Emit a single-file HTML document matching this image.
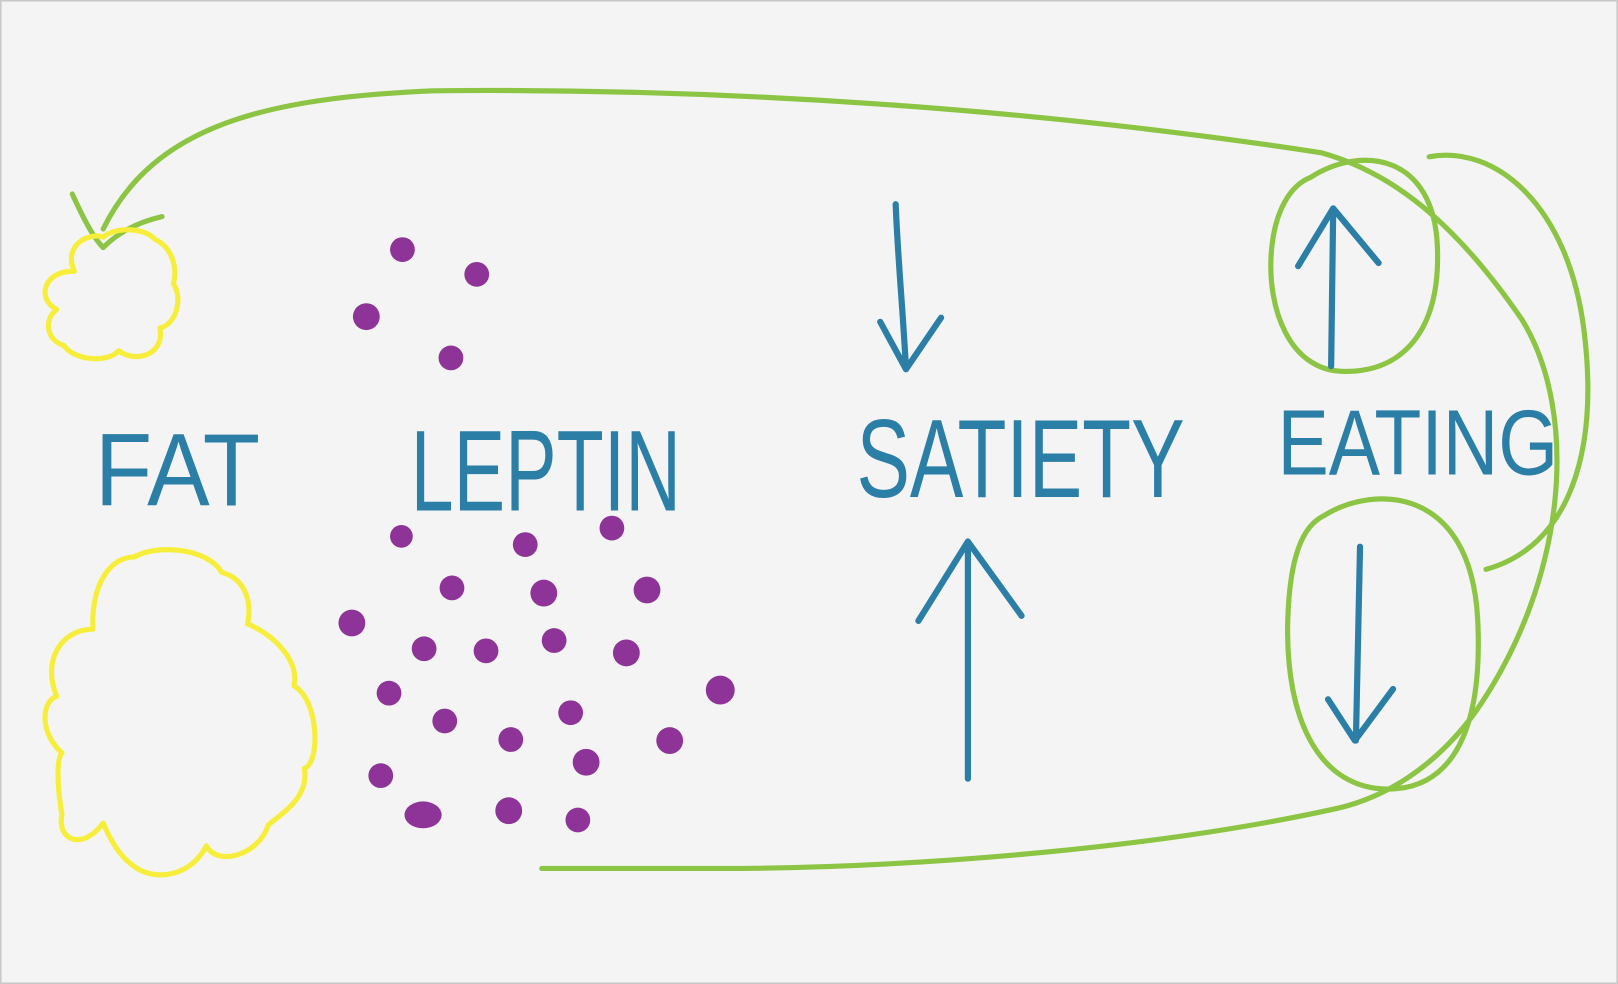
<!DOCTYPE html>
<html><head><style>
html,body{margin:0;padding:0;background:#f3f3f3;}
svg{display:block;}
</style></head><body>
<svg width="1618" height="984" viewBox="0 0 1568 954" preserveAspectRatio="none" xmlns="http://www.w3.org/2000/svg">
<rect x="0" y="0" width="1568" height="954" fill="#f4f4f4"/>
<rect x="0.5" y="0.5" width="1567" height="953" fill="none" stroke="#c8c8c8" stroke-width="2"/>
<g fill="none" stroke-linecap="round" stroke-linejoin="round">
<!-- green loop -->
<path d="M100,222 C150,120 260,95 420,88 C700,85 1000,105 1280,148 C1360,170 1420,230 1475,310 C1530,400 1520,560 1430,690 C1390,745 1340,775 1290,785 C1120,822 900,840 720,842 L525,842" stroke="#8cc443" stroke-width="5"/>
<path d="M70,188 C80,210 90,230 100,240 C115,225 135,215 157,210" stroke="#8cc443" stroke-width="5"/>
<path d="M1385,152 C1450,140 1520,200 1535,320 C1550,440 1520,530 1440,552" stroke="#8cc443" stroke-width="5"/>
<path d="M1270,172 C1320,140 1390,150 1393,240 C1396,320 1360,362 1300,360 C1250,358 1228,300 1232,245 C1235,205 1250,180 1270,172" stroke="#8cc443" stroke-width="5"/>
<path d="M1283,500 C1330,470 1425,470 1432,600 C1438,720 1400,765 1345,765 C1280,765 1245,700 1248,600 C1250,540 1262,510 1283,500" stroke="#8cc443" stroke-width="5"/>
<!-- yellow clouds -->
<path d="M72,263 C60,235 90,225 100,230 C110,220 140,220 150,232 C168,240 172,262 168,275 C178,290 170,315 155,318 C160,345 130,352 115,340 C105,352 72,350 62,335 C45,330 42,310 55,300 C35,290 42,262 72,263" stroke="#f7ee3c" stroke-width="5"/>
<path d="M90,598 C92,560 110,540 130,540 C150,528 200,530 215,555 C235,560 245,580 240,605 C265,615 290,640 285,665 C310,680 310,740 295,745 C300,775 270,790 260,800 C250,830 210,840 200,820 C185,850 150,855 130,840 C115,830 105,810 100,798 C80,825 55,815 60,790 C55,760 55,735 60,730 C38,710 40,680 55,675 C40,640 60,610 90,610 Z" stroke="#f7ee3c" stroke-width="5"/>
<!-- blue arrows -->
<g stroke="#2b7ea6" stroke-width="6">
<path d="M868,198 C870,250 875,300 878,358 M853,312 L878,358 L912,308"/>
<path d="M938,755 L938,525 M890,602 L938,525 L990,597"/>
<path d="M1290,355 L1292,202 M1258,258 L1292,202 L1336,255"/>
<path d="M1318,530 L1314,718 M1287,678 L1313,718 L1350,668"/>
</g>
</g>
<!-- purple dots -->
<g fill="#8e3397">
<circle cx="390" cy="242" r="12"/><circle cx="462" cy="266" r="12"/><circle cx="355" cy="307" r="13"/><circle cx="437" cy="347" r="12"/>
<circle cx="389" cy="520" r="11"/><circle cx="509" cy="528" r="12"/><circle cx="593" cy="512" r="12"/>
<circle cx="438" cy="570" r="12"/><circle cx="527" cy="575" r="13"/><circle cx="627" cy="572" r="13"/>
<circle cx="341" cy="604" r="13"/><circle cx="411" cy="629" r="12"/><circle cx="471" cy="631" r="12"/><circle cx="537" cy="621" r="12"/><circle cx="607" cy="633" r="13"/>
<circle cx="377" cy="672" r="12"/><circle cx="431" cy="699" r="12"/><circle cx="495" cy="717" r="12"/><circle cx="553" cy="691" r="12"/><circle cx="698" cy="669" r="14"/>
<circle cx="568" cy="739" r="13"/><circle cx="649" cy="718" r="13"/><circle cx="369" cy="752" r="12"/>
<ellipse cx="410" cy="790" rx="18" ry="13"/><circle cx="493" cy="786" r="13"/><circle cx="560" cy="795" r="12"/>
</g>
<!-- labels -->
<g fill="#2b7ea6" font-family="'Liberation Sans', sans-serif">
<text x="92" y="490" font-size="100" textLength="160" lengthAdjust="spacingAndGlyphs">FAT</text>
<text x="398" y="495" font-size="112" textLength="262" lengthAdjust="spacingAndGlyphs">LEPTIN</text>
<text x="830" y="482" font-size="108" textLength="318" lengthAdjust="spacingAndGlyphs">SATIETY</text>
<text x="1238" y="460" font-size="90" textLength="272" lengthAdjust="spacingAndGlyphs">EATING</text>
</g>
</svg>
</body></html>
